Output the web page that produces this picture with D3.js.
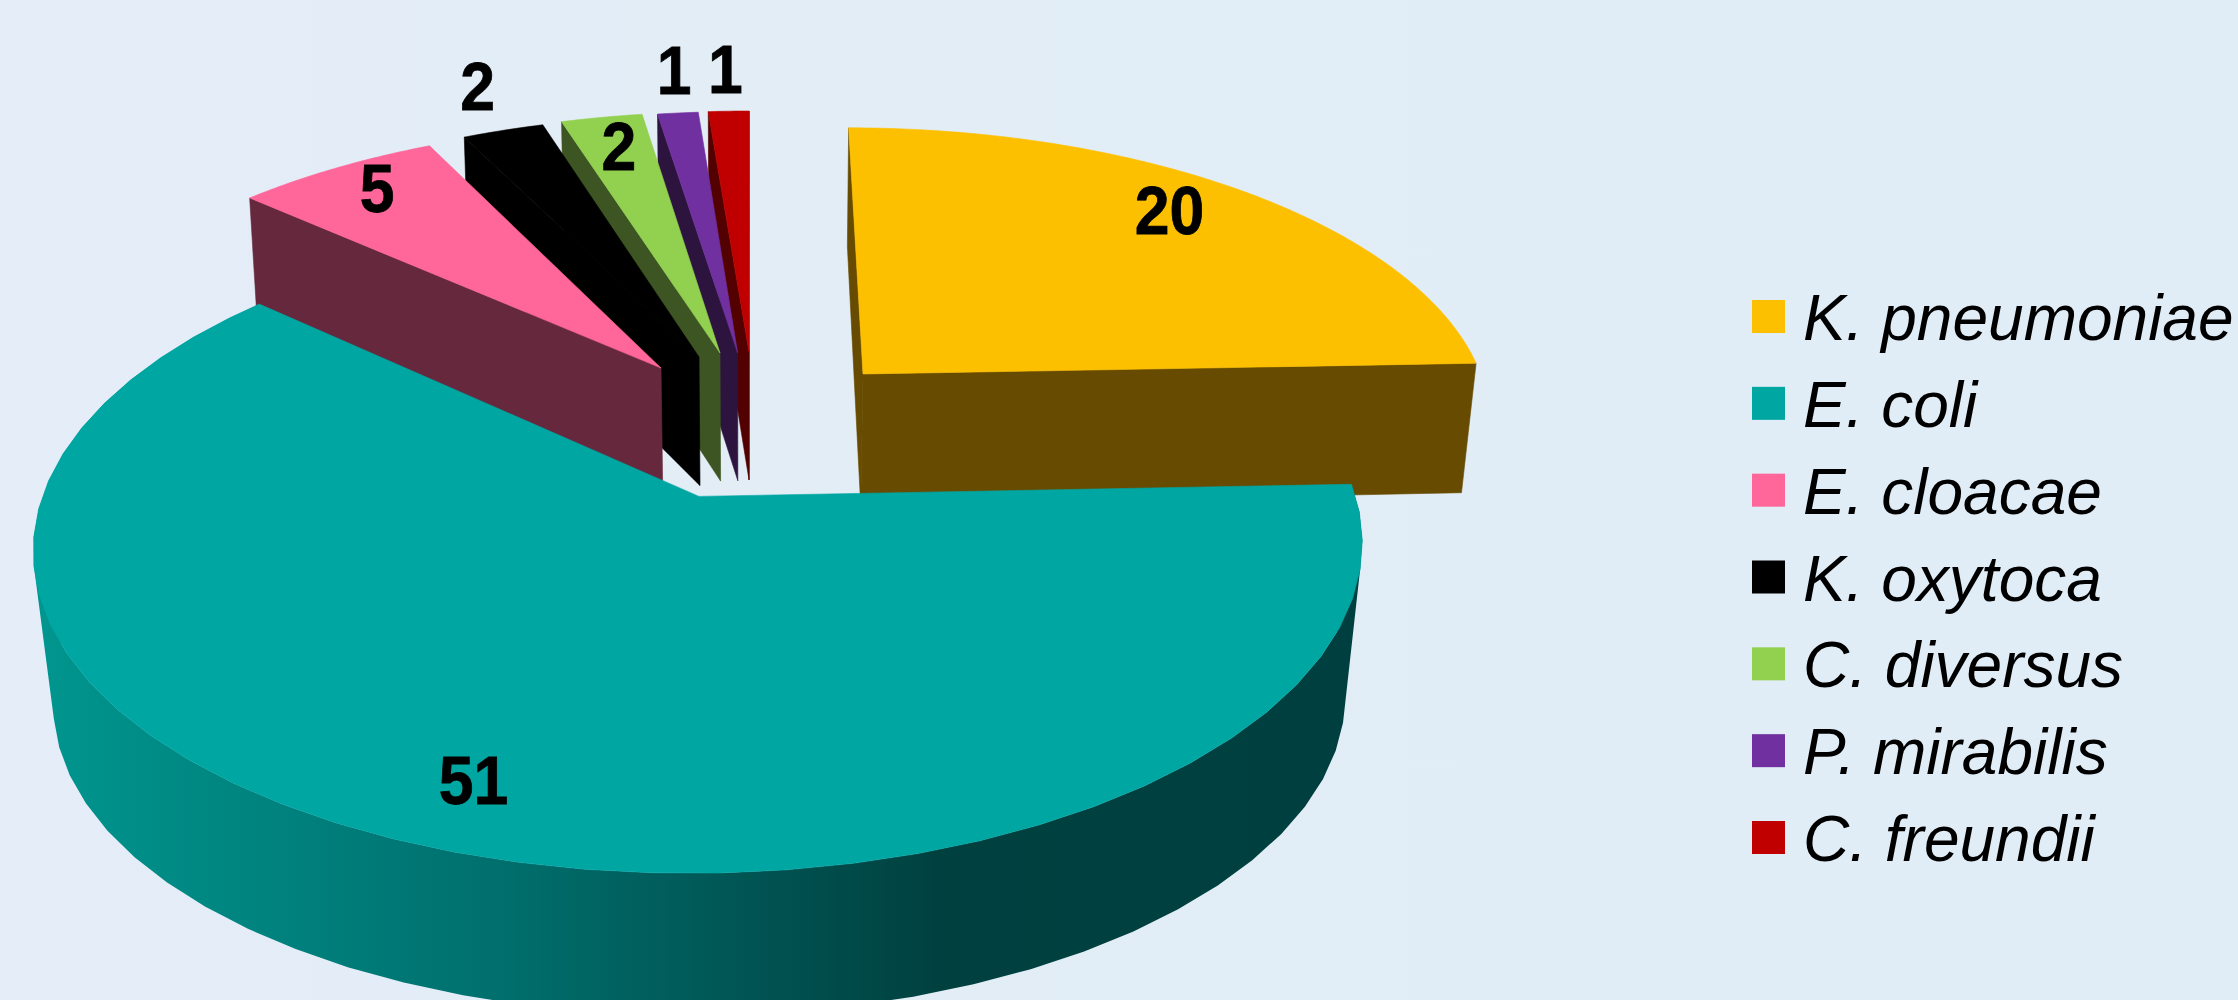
<!DOCTYPE html>
<html>
<head>
<meta charset="utf-8">
<script src="https://cdn.jsdelivr.net/npm/d3@7"></script>
<style>
  html, body { margin: 0; padding: 0; background: #e2edf6; }
  svg { display: block; }
</style>
</head>
<body>
<svg id="chart" width="2238" height="1000"></svg>
<script>
// Isolates per species
const species = ["K. pneumoniae", "E. coli", "E. cloacae", "K. oxytoca", "C. diversus", "P. mirabilis", "C. freundii"];
const counts = [20, 51, 5, 2, 2, 1, 1];

// Slice colours: top face and the darker cut face
const topColors = ["#fdc000", "#00a6a2", "#ff6699", "#000000", "#92d050", "#7030a0", "#c00000"];
const wallColors = ["#674b00", "#004040", "#66283c", "#000000", "#3d5522", "#2d143f", "#530000"];

// How far each slice is pulled from the pie centre, in radii on the disc plane
const pullAcross = [0.183, -0.0777, -0.1445, -0.0833, -0.0491, -0.0203, -0.0016];
const pullDepth = [0.2097, -0.1985, 0.2309, 0.2704, 0.2849, 0.2859, 0.2887];

// Label distance from the slice apex along its mid-angle, in radii, plus a sideways nudge
const labelRadius = [0.86, 0.84, 0.87, 1.21, 0.845, 1.19, 1.19];
const labelNudge = [-22, -6, 3, 10, 1, 6, 0];

const svg = d3.select("#chart");
const defs = svg.append("defs");

// Page background
const bg = defs.append("linearGradient").attr("id", "page");
bg.append("stop").attr("offset", 0).attr("stop-color", "#e5edf8");
bg.append("stop").attr("offset", 0.35).attr("stop-color", "#e2edf6");
bg.append("stop").attr("offset", 1).attr("stop-color", "#e1edf6");
svg.append("rect").attr("width", 2238).attr("height", 1000).attr("fill", "url(#page)");

// Shaded rim of the large slice
const rimShade = defs.append("linearGradient").attr("id", "rim")
  .attr("gradientUnits", "userSpaceOnUse")
  .attr("x1", 33).attr("x2", 1363).attr("y1", 0).attr("y2", 0);
[[0, "#00968f"], [0.2, "#00807c"], [0.35, "#006f6d"], [0.5, "#005a58"], [0.68, "#004140"], [1, "#003f3f"]]
  .forEach(([o, c]) => rimShade.append("stop").attr("offset", o).attr("stop-color", c));

// Perspective of the tilted disc. The top face is a homography of the unit disc;
// the bottom face follows it, its offset and inset varying with distance from the viewer.
const foreshorten = 0.15;
const centerX = 750;
const centerY = 435;
const spanX = 637;
const spanY = 300;
const thickness = d3.scaleLinear().domain([-1.5, -0.37, 0.25, 0.8, 1.05]).range([142, 154, 129, 107, 120]).clamp(true);
const inset = d3.scaleLinear().domain([-0.4, 0.25, 0.8]).range([0.972, 0.98, 0.987]).clamp(true);

function project(u, v, z) {
  const w = 1 + foreshorten * v;
  const s = v / w;
  const x = spanX * u / w;
  const y = centerY - spanY * s;
  return z ? [centerX + x * inset(s), y + thickness(s)] : [centerX + x, y];
}

const pie = d3.pie().sort(null).value(d => d);
const arcs = pie(counts).map((a, i) => ({ ...a, i }));
const line = d3.line();

// Angular step: the large slice is drawn with visible facets
const stepFor = a => (a.endAngle - a.startAngle > Math.PI ? 5 * Math.PI / 180 : 0.01);

function rimPoint(a, theta, z, radius = 1) {
  return project(pullAcross[a.i] + radius * Math.sin(theta),
                 pullDepth[a.i] + radius * Math.cos(theta), z);
}
function apex(a, z) { return rimPoint(a, 0, z, 0); }
function arcAngles(a) {
  return d3.range(a.startAngle, a.endAngle, stepFor(a)).concat([a.endAngle]);
}

// Paint from the back of the disc towards the viewer
const order = arcs.slice().sort((p, q) => pullDepth[q.i] - pullDepth[p.i]);
const sliceGroups = svg.append("g").selectAll("g").data(order).join("g");

sliceGroups.each(function (a) {
  const g = d3.select(this);

  // Radial cut faces, keeping those that turn towards the viewer
  [[a.startAngle, -1], [a.endAngle, 1]].forEach(([theta, sign]) => {
    const wall = [apex(a, 0), rimPoint(a, theta, 0), rimPoint(a, theta, 1), apex(a, 1)];
    if (d3.polygonArea(wall) * sign < 0) {
      g.append("path").attr("d", line(wall) + "Z")
        .attr("fill", wallColors[a.i])
        .attr("stroke", wallColors[a.i]).attr("stroke-width", 0.6);
    }
  });

  // Outer rim as one path of same-winding quads, for a slice reaching the front of the disc
  if (a.startAngle < Math.PI && a.endAngle > Math.PI) {
    const angles = arcAngles(a);
    const quads = d3.pairs(angles).map(([t0, t1]) => {
      const q = [rimPoint(a, t0, 0), rimPoint(a, t1, 0), rimPoint(a, t1, 1), rimPoint(a, t0, 1)];
      return line(d3.polygonArea(q) < 0 ? q.reverse() : q) + "Z";
    });
    g.append("path").attr("d", quads.join("")).attr("fill", "url(#rim)");
  }

  // Top face
  g.append("path")
    .attr("d", line([apex(a, 0)].concat(arcAngles(a).map(t => rimPoint(a, t, 0)))) + "Z")
    .attr("fill", topColors[a.i])
    .attr("stroke", topColors[a.i]).attr("stroke-width", 0.6);
});

// Value labels on each slice's mid-angle
svg.append("g").selectAll("text").data(arcs).join("text")
  .attr("transform", a => {
    const [x, y] = rimPoint(a, (a.startAngle + a.endAngle) / 2, 0, labelRadius[a.i]);
    return `translate(${x + labelNudge[a.i]},${y}) scale(0.92,1)`;
  })
  .attr("dy", "0.3em")
  .attr("text-anchor", "middle")
  .attr("font-family", "'Liberation Sans', Arial, sans-serif")
  .attr("font-weight", "bold")
  .attr("font-size", 68)
  .attr("fill", "#000")
  .attr("stroke", "#000").attr("stroke-width", 0.8)
  .text(a => a.data);

// Legend
const legendY = d3.scalePoint().domain(species).range([300, 821]);
const legend = svg.append("g").selectAll("g").data(species).join("g")
  .attr("transform", d => `translate(1752,${legendY(d)})`);
legend.append("rect").attr("width", 33).attr("height", 33)
  .attr("fill", (d, i) => topColors[i]);
legend.append("text")
  .attr("x", 51).attr("y", 40)
  .attr("font-family", "'Liberation Sans', Arial, sans-serif")
  .attr("font-style", "italic")
  .attr("font-size", 64)
  .attr("fill", "#000")
  .text(d => d);
</script>
</body>
</html>
